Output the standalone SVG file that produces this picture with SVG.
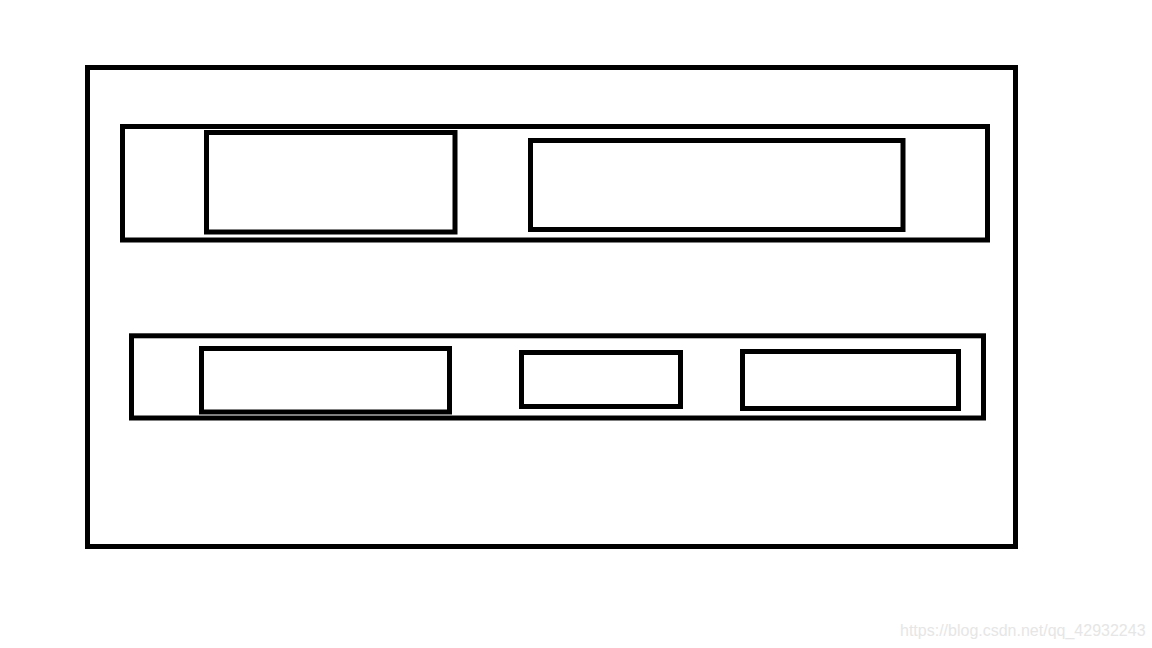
<svg xmlns="http://www.w3.org/2000/svg" width="1152" height="648" viewBox="0 0 1152 648">
<style>
.box{fill:none;stroke:#000;stroke-width:5}
.wm{font-family:"Liberation Sans",Arial,sans-serif;font-size:16px;fill:#e6e6e6}
</style>
<rect width="1152" height="648" fill="#fff"/>
<g id="outer"><rect class="box" x="87.5" y="67.5" width="928" height="479"/></g>
<g id="top-panel"><rect class="box" x="122.5" y="126.5" width="865" height="113.5"/></g>
<g id="box1"><rect class="box" x="206.5" y="132.5" width="248.5" height="99.5"/></g>
<g id="box2"><rect class="box" x="530.5" y="140.5" width="372.5" height="89"/></g>
<g id="bottom-panel"><rect class="box" x="131.5" y="335.8" width="852" height="82.2"/></g>
<g id="box3"><rect class="box" x="201.5" y="348.5" width="248" height="63.5"/></g>
<g id="box4"><rect class="box" x="521.5" y="352.5" width="159" height="54"/></g>
<g id="box5"><rect class="box" x="742.5" y="351.5" width="216" height="57"/></g>
<g id="connectors"></g>
<text class="wm" x="900" y="636">https://blog.csdn.net/qq_42932243</text>
</svg>
